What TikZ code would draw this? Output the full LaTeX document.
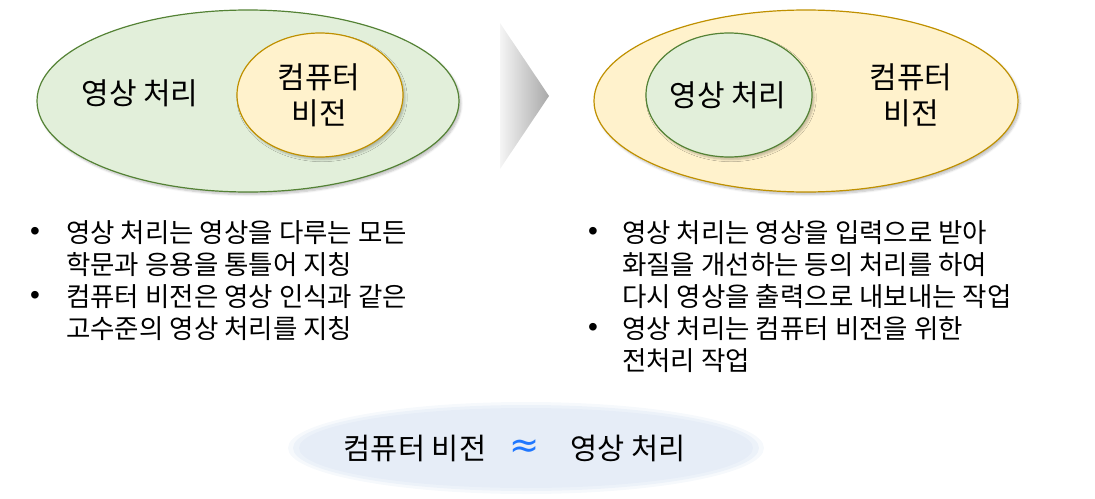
\documentclass[tikz,border=0pt]{standalone}
\usepackage{fontspec}
\setmainfont{Noto Sans CJK KR}
\newfontfamily\bulletfont{Liberation Sans}
\newfontfamily\symfont{DejaVu Sans}
\usetikzlibrary{shapes.geometric,shadows.blur}
\definecolor{gfill}{HTML}{E2EFDA}
\definecolor{gline}{HTML}{548235}
\definecolor{yfill}{HTML}{FFF2CC}
\definecolor{yline}{HTML}{BF9000}
\definecolor{bfill}{HTML}{E6EDF7}
\definecolor{approx}{HTML}{1F77FF}
\tikzset{
  blob/.style={ellipse, inner sep=0pt, line width=1.2pt,
    blur shadow={shadow xshift=2pt, shadow yshift=-2.5pt, shadow blur steps=6, shadow opacity=25}},
  green blob/.style={blob, fill=gfill, draw=gline},
  yellow blob/.style={blob, fill=yfill, draw=yline},
  big/.style={font=\fontsize{30}{36}\selectfont, align=center, inner sep=0pt},
  bul/.style={font=\fontsize{26.5}{32}\selectfont, anchor=north west, align=left, inner sep=0pt},
  dot/.style={font=\bulletfont\fontsize{28}{30}\selectfont, inner sep=0pt},
}
\begin{document}
\begin{tikzpicture}[x=1pt,y=-1pt]
\useasboundingbox (0,0) rectangle (1095,498);
% left diagram
\node[green blob, minimum width=422pt, minimum height=182pt] (lo) at (248,101) {};
\node[yellow blob, minimum width=166pt, minimum height=124pt] (li) at (320,95) {};
\node[big] (lot) at (140,93) {영상 처리};
\node[big] (lit) at (319,95) {컴퓨터\\비전};
% arrow
\shade[left color=gray!8, right color=gray!68] (500,23) -- (549,96) -- (500,169) -- cycle;
% right diagram
\node[yellow blob, minimum width=424pt, minimum height=182pt] (ro) at (806,101) {};
\node[green blob, minimum width=166pt, minimum height=124pt] (ri) at (729,95) {};
\node[big] (rit) at (728,95) {영상 처리};
\node[big] (rot) at (911,95) {컴퓨터\\비전};
% left bullets
\node[dot] (lb1) at (35,234) {•};
\node[dot] (lb2) at (35,298) {•};
\node[bul] (lt) at (66,220) {영상 처리는 영상을 다루는 모든\\학문과 응용을 통틀어 지칭\\컴퓨터 비전은 영상 인식과 같은\\고수준의 영상 처리를 지칭};
% right bullets
\node[dot] (rb1) at (593,234) {•};
\node[dot] (rb2) at (593,330) {•};
\node[bul] (rt) at (622,220) {영상 처리는 영상을 입력으로 받아\\화질을 개선하는 등의 처리를 하여\\다시 영상을 출력으로 내보내는 작업\\영상 처리는 컴퓨터 비전을 위한\\전처리 작업};
% bottom
\fill[bfill, opacity=0.35] (526,448) ellipse [x radius=238, y radius=46];
\fill[bfill, opacity=0.6] (526,448) ellipse [x radius=233, y radius=43];
\fill[bfill] (526,448) ellipse [x radius=227, y radius=40];
\node[big, font=\fontsize{29.5}{34}\selectfont] (bl) at (415,448) {컴퓨터 비전};
\node[big, font=\symfont\fontsize{36}{40}\selectfont, text=approx] (bm) at (525,449) {≈};
\node[big, font=\fontsize{29.5}{34}\selectfont] (br) at (628,448) {영상 처리};
\end{tikzpicture}
\end{document}
